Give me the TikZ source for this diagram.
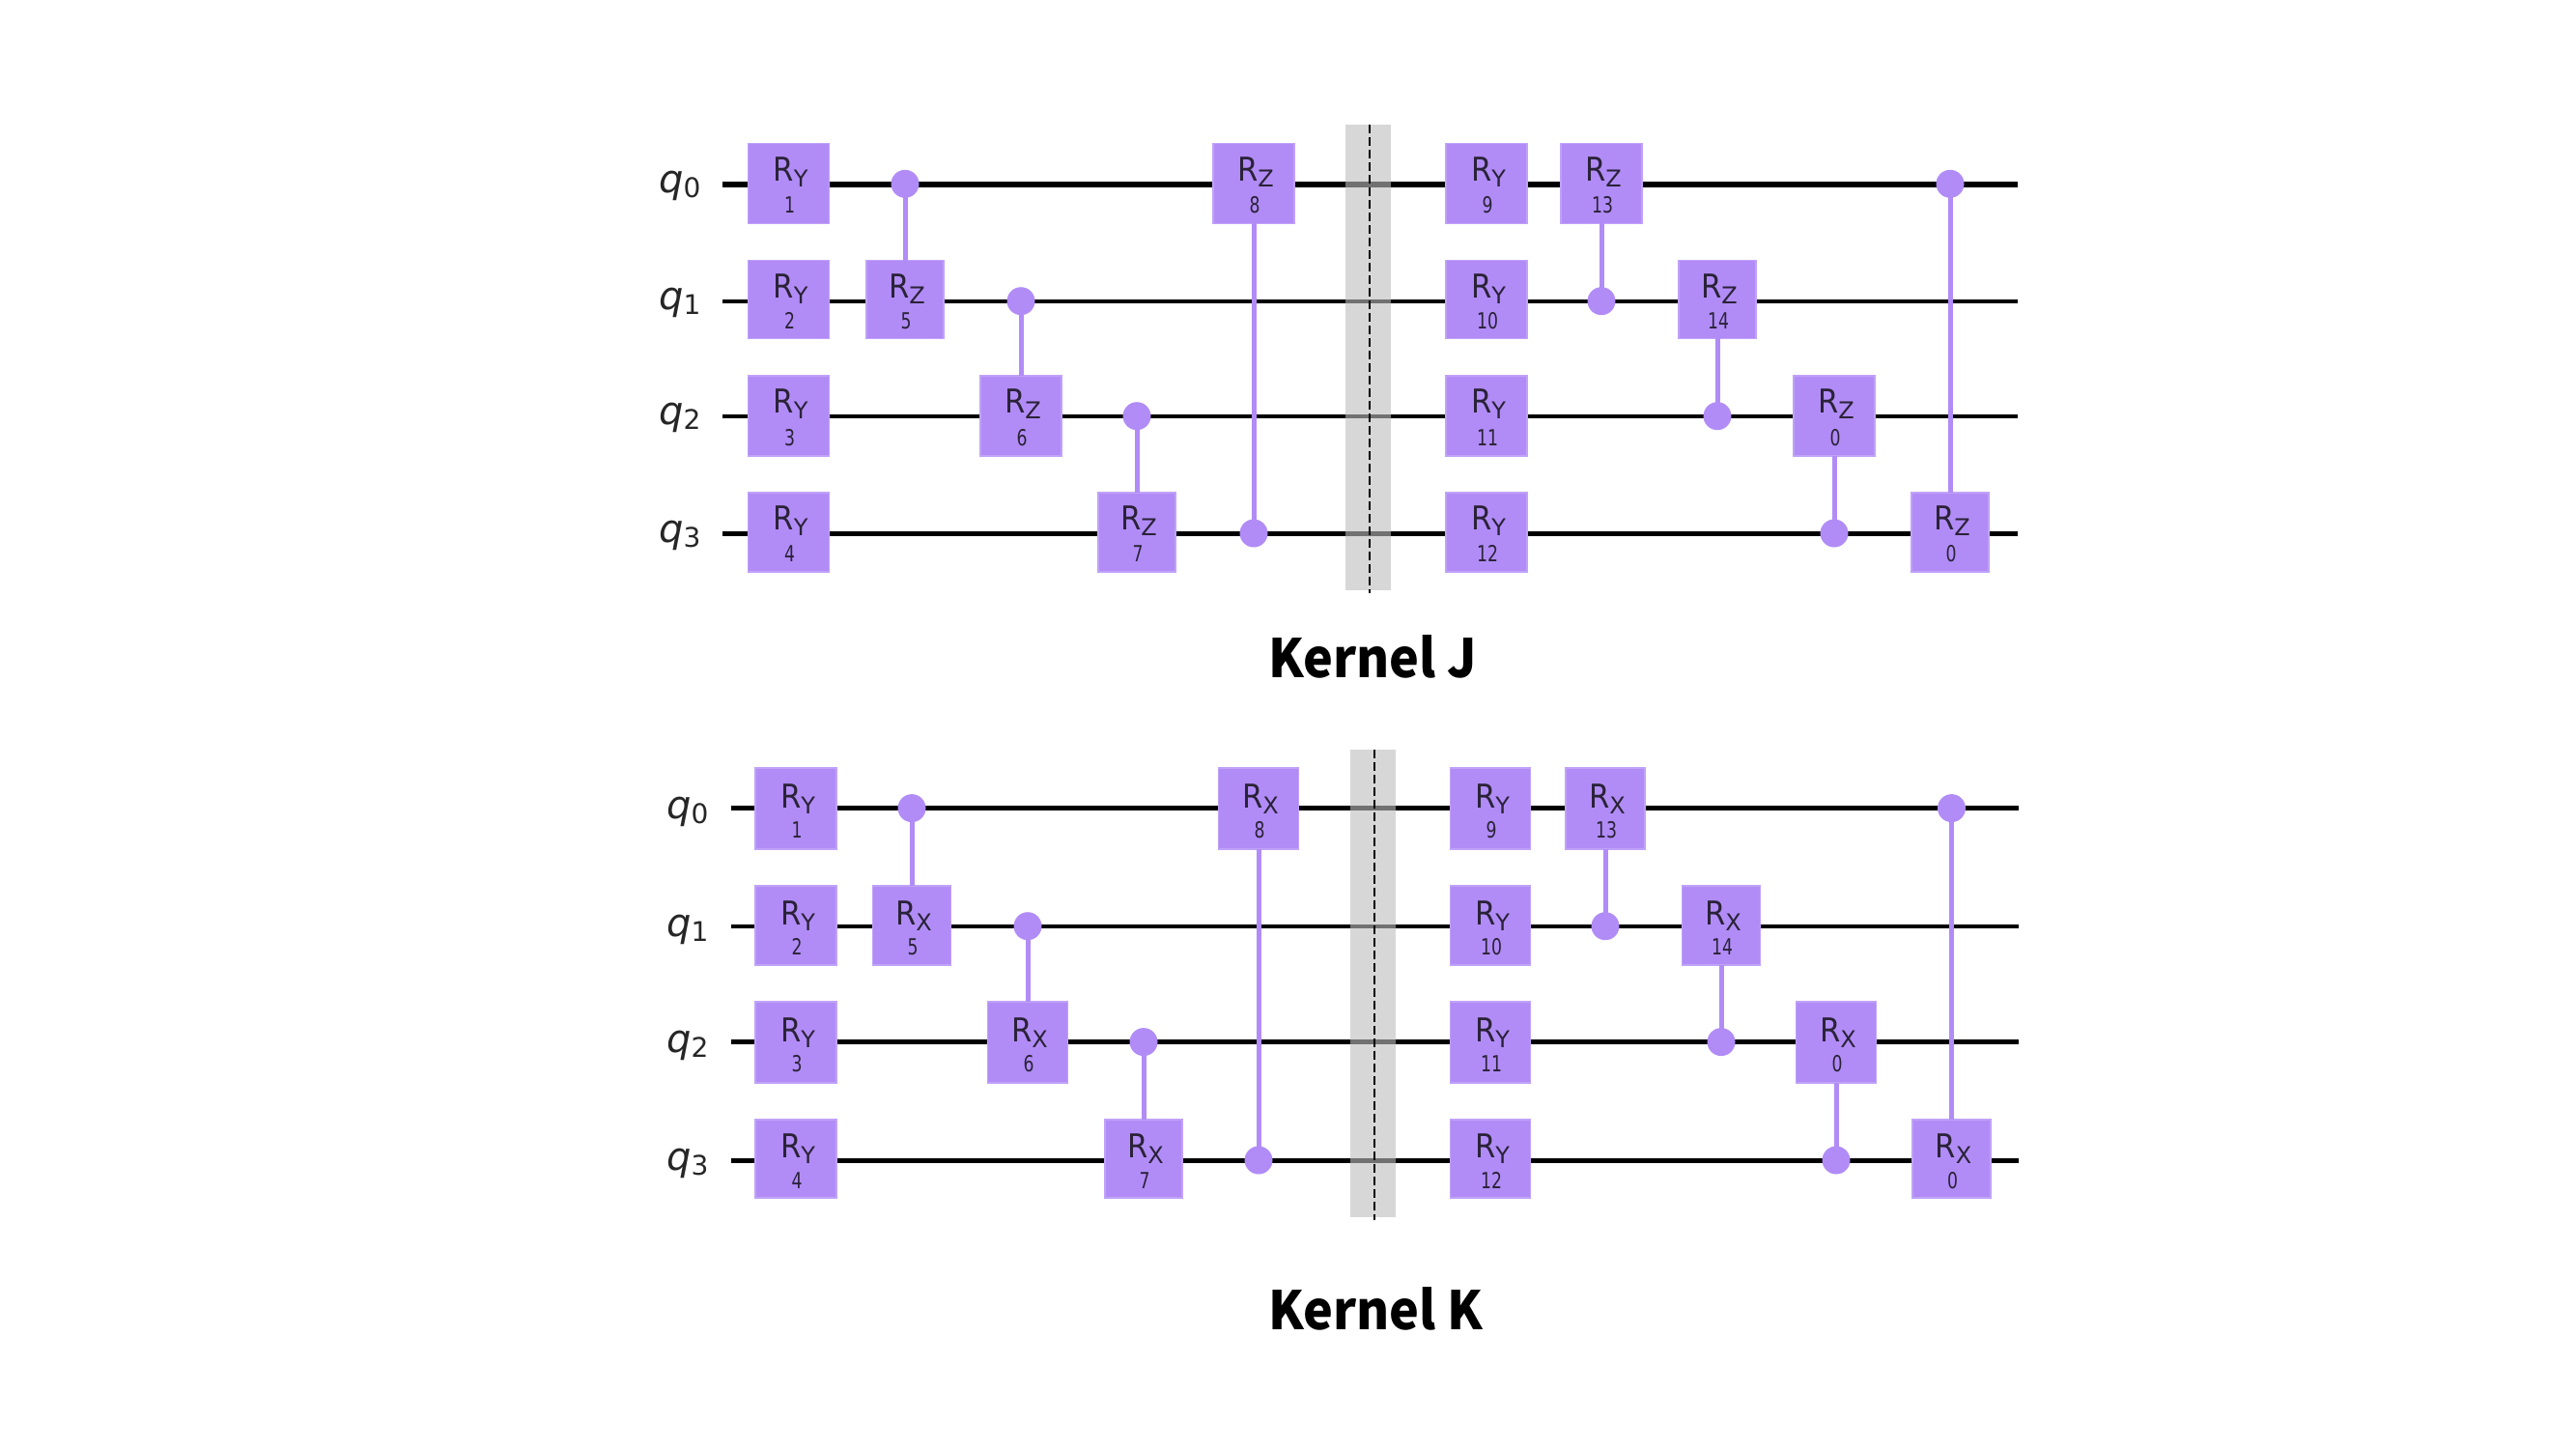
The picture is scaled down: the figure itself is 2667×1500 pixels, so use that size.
\documentclass[tikz,border=0pt]{standalone}
\usepackage{fontspec}
\usepackage{graphicx}
\setmainfont{DejaVu Sans}
\newfontfamily\titlefont{Noto Sans CJK KR}
\definecolor{gatefill}{HTML}{B18CF6}
\definecolor{gateedge}{HTML}{C0A2F8}
\definecolor{gateink}{HTML}{2A2238}
\definecolor{barrierfill}{HTML}{BDBDBD}
\tikzset{
  gatebox/.style={rectangle,fill=gatefill,draw=gateedge,line width=1.2pt,inner sep=0pt,minimum width=#1},
  gatetxt/.style={anchor=base,inner sep=0pt,text=gateink},
  ctrldot/.style={circle,fill=gatefill,draw=none,inner sep=0pt,minimum size=29pt},
  ctrlline/.style={draw=gatefill,line width=5pt,shorten <=-1pt,shorten >=-1pt},
  wireline/.style={draw=black,line width=#1},
  barrierbar/.style={fill=barrierfill,fill opacity=0.6,draw=none},
  barrierdash/.style={draw=black,line width=2pt,dash pattern=on 9pt off 4pt},
  qlabel/.style={anchor=base west,inner sep=0pt,text=black!85},
  kerneltitle/.style={anchor=base west,inner sep=0pt,text=black}
}
% \gateat{name}{x}{y}{w}{h}{sub}{digit}{R drop}
\newcommand{\gateat}[8]{%
  \node[gatebox=#4pt,minimum height=#5pt] (#1) at (#2,#3) {};
  \node[gatetxt] (#1r) at (#2+2,#3+#8) {\scalebox{0.9}[1]{\fontsize{34}{40}\selectfont R}\raisebox{-6pt}{\fontsize{24}{28}\selectfont #6}};
  \node[gatetxt] (#1d) at (#2+1,#3+30.5) {\scalebox{0.75}[1]{\fontsize{23}{28}\selectfont #7}};
}
\newcommand{\qlab}[4]{%
  \node[qlabel] (#1) at (#2,#3) {\fontsize{40}{48}\selectfont\itshape q\raisebox{-5pt}{\fontsize{28}{32}\selectfont\upshape #4}};
}
\newcommand{\kerneltext}[1]{\scalebox{0.945}[1]{\titlefont\fontsize{55}{66}\selectfont\bfseries #1}}
\begin{document}
\begin{tikzpicture}[x=1pt,y=-1pt]
\useasboundingbox (0,0) rectangle (2667,1500);
% ---------- Kernel J: wires ----------
\coordinate (a0s) at (748,190.5); \coordinate (a0e) at (2089,190.5);
\coordinate (a1s) at (748,311.5); \coordinate (a1e) at (2089,311.5);
\coordinate (a2s) at (748,430.5); \coordinate (a2e) at (2089,430.5);
\coordinate (a3s) at (748,552);   \coordinate (a3e) at (2089,552);
\draw[wireline=6pt] (a0s) -- (a0e);
\draw[wireline=4pt] (a1s) -- (a1e);
\draw[wireline=4pt] (a2s) -- (a2e);
\draw[wireline=5pt] (a3s) -- (a3e);
\fill[barrierbar] (1393,129) rectangle (1440,610.5);
\coordinate (abt) at (1418,129); \coordinate (abb) at (1418,614);
\draw[barrierdash] (abt) -- (abb);
\qlab{aq0}{682}{199.3}{0}
\qlab{aq1}{682}{320.7}{1}
\qlab{aq2}{682}{439.7}{2}
\qlab{aq3}{682}{561}{3}
% gates
\gateat{a1}{816.5}{190}{84}{83}{Y}{1}{-3}
\gateat{a2}{816.5}{310}{84}{81}{Y}{2}{-2}
\gateat{a3}{816.5}{430.5}{84}{83}{Y}{3}{-3}
\gateat{a4}{816.5}{551}{84}{82}{Y}{4}{-3}
\gateat{a5}{937}{310}{80}{81}{Z}{5}{-2}
\gateat{a6}{1057}{430.5}{84}{83}{Z}{6}{-3}
\gateat{a7}{1177}{551}{80}{82}{Z}{7}{-3}
\gateat{a8}{1298}{190}{84}{83}{Z}{8}{-3}
\gateat{a9}{1539}{190}{84}{83}{Y}{9}{-3}
\gateat{a10}{1539}{310}{84}{81}{Y}{10}{-2}
\gateat{a11}{1539}{430.5}{84}{83}{Y}{11}{-3}
\gateat{a12}{1539}{551}{84}{82}{Y}{12}{-3}
\gateat{a13}{1658}{190}{84}{83}{Z}{13}{-3}
\gateat{a14}{1778}{310}{80}{81}{Z}{14}{-2}
\gateat{a15}{1899}{430.5}{84}{83}{Z}{0}{-3}
\gateat{a16}{2019}{551}{80}{82}{Z}{0}{-3}
% controls
\node[ctrldot] (ad5) at (937,190.3) {};
\node[ctrldot] (ad6) at (1057,311.7) {};
\node[ctrldot] (ad7) at (1177,430.7) {};
\node[ctrldot] (ad8) at (1298,552) {};
\node[ctrldot] (ad13) at (1658,311.7) {};
\node[ctrldot] (ad14) at (1778,430.7) {};
\node[ctrldot] (ad15) at (1899,552) {};
\node[ctrldot] (ad16) at (2019,190.3) {};
\draw[ctrlline] (ad5) -- (a5);
\draw[ctrlline] (ad6) -- (a6);
\draw[ctrlline] (ad7) -- (a7);
\draw[ctrlline] (ad8) -- (a8);
\draw[ctrlline] (ad13) -- (a13);
\draw[ctrlline] (ad14) -- (a14);
\draw[ctrlline] (ad15) -- (a15);
\draw[ctrlline] (ad16) -- (a16);
\node[kerneltitle] (kj) at (1313,701) {\kerneltext{Kernel J}};
% ---------- Kernel K: wires ----------
\coordinate (b0s) at (756.5,836.5); \coordinate (b0e) at (2090,836.5);
\coordinate (b1s) at (756.5,959); \coordinate (b1e) at (2090,959);
\coordinate (b2s) at (756.5,1078.5); \coordinate (b2e) at (2090,1078.5);
\coordinate (b3s) at (756.5,1201);  \coordinate (b3e) at (2090,1201);
\draw[wireline=5pt] (b0s) -- (b0e);
\draw[wireline=4.5pt] (b1s) -- (b1e);
\draw[wireline=5pt] (b2s) -- (b2e);
\draw[wireline=5pt] (b3s) -- (b3e);
\fill[barrierbar] (1398.4,775.6) rectangle (1445,1259.6);
\coordinate (bbt) at (1422.5,775.6); \coordinate (bbb) at (1422.5,1263);
\draw[barrierdash] (bbt) -- (bbb);
\qlab{bq0}{690}{847}{0}
\qlab{bq1}{690}{969}{1}
\qlab{bq2}{690}{1089}{2}
\qlab{bq3}{690}{1211.5}{3}
\gateat{b1}{824}{837}{84}{84}{Y}{1}{-1}
\gateat{b2}{824}{958}{84}{82}{Y}{2}{-1}
\gateat{b3}{824}{1079}{84}{84}{Y}{3}{-1}
\gateat{b4}{824}{1199.5}{84}{81}{Y}{4}{-1}
\gateat{b5}{944}{958}{81}{82}{X}{5}{-1}
\gateat{b6}{1064}{1079}{83}{84}{X}{6}{-1}
\gateat{b7}{1184}{1199.5}{80}{81}{X}{7}{-1}
\gateat{b8}{1303}{837}{83}{84}{X}{8}{-1}
\gateat{b9}{1543}{837}{83}{84}{Y}{9}{-1}
\gateat{b10}{1543}{958}{83}{82}{Y}{10}{-1}
\gateat{b11}{1543}{1079}{83}{84}{Y}{11}{-1}
\gateat{b12}{1543}{1199.5}{83}{81}{Y}{12}{-1}
\gateat{b13}{1662}{837}{82}{84}{X}{13}{-1}
\gateat{b14}{1782}{958}{81}{82}{X}{14}{-1}
\gateat{b15}{1901}{1079}{83}{84}{X}{0}{-1}
\gateat{b16}{2020.5}{1199.5}{81}{81}{X}{0}{-1}
\node[ctrldot] (bd5) at (944,836.6) {};
\node[ctrldot] (bd6) at (1064,958.7) {};
\node[ctrldot] (bd7) at (1184,1078.6) {};
\node[ctrldot] (bd8) at (1303,1201) {};
\node[ctrldot] (bd13) at (1662,958.7) {};
\node[ctrldot] (bd14) at (1782,1078.6) {};
\node[ctrldot] (bd15) at (1901,1201) {};
\node[ctrldot] (bd16) at (2020.5,836.6) {};
\draw[ctrlline] (bd5) -- (b5);
\draw[ctrlline] (bd6) -- (b6);
\draw[ctrlline] (bd7) -- (b7);
\draw[ctrlline] (bd8) -- (b8);
\draw[ctrlline] (bd13) -- (b13);
\draw[ctrlline] (bd14) -- (b14);
\draw[ctrlline] (bd15) -- (b15);
\draw[ctrlline] (bd16) -- (b16);
\node[kerneltitle] (kk) at (1313,1376) {\kerneltext{Kernel K}};
\end{tikzpicture}
\end{document}
